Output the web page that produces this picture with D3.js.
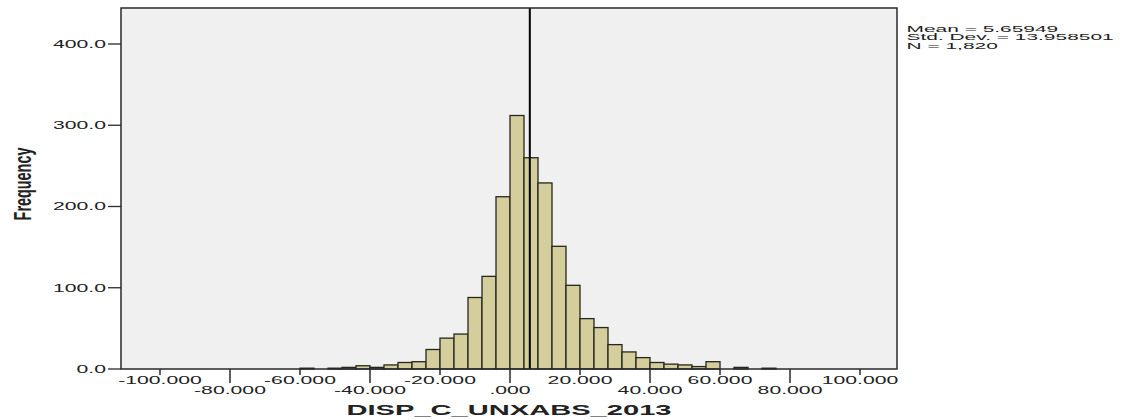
<!DOCTYPE html>
<html>
<head>
<meta charset="utf-8">
<script src="https://cdn.jsdelivr.net/npm/d3@7"></script>
<style>
  html, body { margin: 0; padding: 0; background: #ffffff; }
  svg { display: block; }
  text { font-family: "Liberation Sans", Arial, sans-serif; fill: #222; }
</style>
</head>
<body>
<div id="chart"></div>
<script>
// ---- data ----
const binStarts = [-60, -56, -52, -48, -44, -40, -36, -32, -28, -24, -20, -16, -12, -8, -4,
                   0, 4, 8, 12, 16, 20, 24, 28, 32, 36, 40, 44, 48, 52, 56, 60, 64, 68, 72];
const binWidth = 4;
const frequencies = [1, 0, 1, 2, 4, 2, 5, 8, 9, 24, 38, 43, 88, 114, 212,
                     312, 260, 229, 151, 103, 62, 51, 30, 21, 14, 8, 6, 5, 3, 9, 0, 2, 0, 1];
const xTicks = [-100, -80, -60, -40, -20, 0, 20, 40, 60, 80, 100];
const xTickLabels = ["-100.000", "-80.000", "-60.000", "-40.000", "-20.000", ".000",
                     "20.000", "40.000", "60.000", "80.000", "100.000"];
const yTicks = [0, 100, 200, 300, 400];
const yTickLabels = ["0.0", "100.0", "200.0", "300.0", "400.0"];
const meanValue = 5.65949;
const statsLines = ["Mean = 5.65949", "Std. Dev. = 13.958501", "N = 1,820"];
const xTitle = "DISP_C_UNXABS_2013";
const yTitle = "Frequency";

// ---- layout ----
const W = 1122, H = 420;
const plot = { left: 121, right: 897, top: 8, bottom: 369 };
const SX = 2.0; // horizontal stretch of the text in the reference

const svg = d3.select("#chart").append("svg").attr("width", W).attr("height", H);

const x = d3.scaleLinear().domain([-111.14, 110.57]).range([plot.left, plot.right]);
const y = d3.scaleLinear().domain([0, 444.3]).range([plot.bottom, plot.top]);

// plot background
svg.append("rect")
  .attr("x", plot.left).attr("y", plot.top)
  .attr("width", plot.right - plot.left).attr("height", plot.bottom - plot.top)
  .attr("fill", "#f0f0f0");

// bars
const bins = binStarts.map((s, i) => ({ x0: s, x1: s + binWidth, n: frequencies[i] }))
  .filter(d => d.n > 0);
svg.append("g").selectAll("rect").data(bins).join("rect")
  .attr("x", d => x(d.x0))
  .attr("y", d => y(d.n))
  .attr("width", d => x(d.x1) - x(d.x0))
  .attr("height", d => y(0) - y(d.n))
  .attr("fill", "#d3ce9b")
  .attr("stroke", "#26261e")
  .attr("stroke-width", 1.3);

// mean line
svg.append("line")
  .attr("x1", x(meanValue)).attr("x2", x(meanValue))
  .attr("y1", plot.top).attr("y2", plot.bottom)
  .attr("stroke", "#000").attr("stroke-width", 2);

// frame
svg.append("rect")
  .attr("x", plot.left).attr("y", plot.top)
  .attr("width", plot.right - plot.left).attr("height", plot.bottom - plot.top)
  .attr("fill", "none").attr("stroke", "#2a2a2a").attr("stroke-width", 1.5);

// y axis ticks + labels
const yg = svg.append("g");
yTicks.forEach((t, i) => {
  yg.append("line")
    .attr("x1", plot.left - 13).attr("x2", plot.left)
    .attr("y1", y(t)).attr("y2", y(t))
    .attr("stroke", "#2a2a2a").attr("stroke-width", 1.3);
  yg.append("text")
    .attr("transform", `translate(${plot.left - 15},${y(t)}) scale(${SX},1)`)
    .attr("text-anchor", "end").attr("dy", "0.36em")
    .attr("font-size", "10.6px")
    .text(yTickLabels[i]);
});

// x axis ticks + labels (alternating rows)
const xg = svg.append("g");
xTicks.forEach((t, i) => {
  const low = i % 2 === 1;
  xg.append("line")
    .attr("x1", x(t)).attr("x2", x(t))
    .attr("y1", plot.bottom).attr("y2", plot.bottom + (low ? 14 : 6))
    .attr("stroke", "#2a2a2a").attr("stroke-width", 1.5);
  xg.append("text")
    .attr("transform", `translate(${x(t)},${plot.bottom + (low ? 24.5 : 15)}) scale(${SX},1)`)
    .attr("text-anchor", "middle")
    .attr("font-size", "10.6px")
    .text(xTickLabels[i]);
});

// axis titles
svg.append("text")
  .attr("transform", `translate(${(plot.left + plot.right) / 2},415) scale(2.05,1)`)
  .attr("text-anchor", "middle")
  .attr("font-size", "14.2px").attr("font-weight", "bold")
  .attr("fill", "#111")
  .text(xTitle);

svg.append("text")
  .attr("transform", `translate(31,184) scale(1.7,1) rotate(-90)`)
  .attr("text-anchor", "middle")
  .attr("font-size", "14.4px").attr("font-weight", "bold")
  .attr("fill", "#111")
  .text(yTitle);

// stats box
statsLines.forEach((s, i) => {
  svg.append("text")
    .attr("transform", `translate(906.5,${31.5 + i * 8.6}) scale(2.3,0.95)`)
    .attr("text-anchor", "start")
    .attr("font-size", "9.1px")
    .text(s);
});
</script>
</body>
</html>
